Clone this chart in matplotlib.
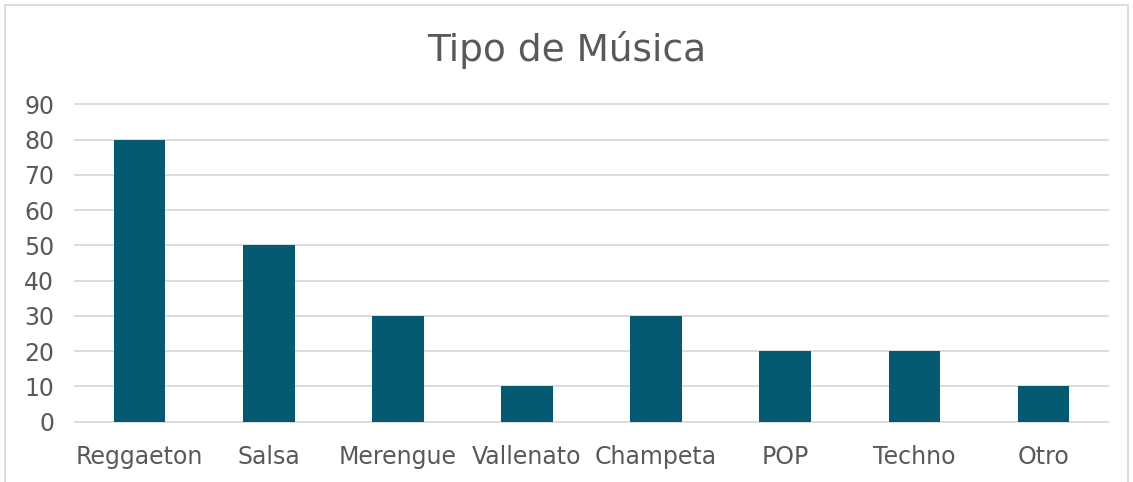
import matplotlib.pyplot as plt
from matplotlib.patches import Rectangle

categories = ['Reggaeton', 'Salsa', 'Merengue', 'Vallenato', 'Champeta', 'POP', 'Techno', 'Otro']
values = [80, 50, 30, 10, 30, 20, 20, 10]
yticks = [0, 10, 20, 30, 40, 50, 60, 70, 80, 90]

text_color = '#595959'
bar_color = '#045A71'

fig = plt.figure(figsize=(11.33, 4.82), dpi=100)
ax = fig.add_axes([0.0662, 0.125, 0.9118, 0.6586])

x = range(len(categories))
ax.bar(x, values, width=0.4, color=bar_color, zorder=3)

ax.set_xlim(-0.5, len(categories) - 0.5)
ax.set_ylim(0, 90)
ax.set_yticks(yticks)
ax.set_xticks(list(x))
ax.set_xticklabels(categories)
ax.yaxis.grid(True, color='#D9D9D9', linewidth=1.3, zorder=0)
for line in ax.get_ygridlines():
    line.set_clip_on(False)
for s in ax.spines.values():
    s.set_visible(False)
ax.tick_params(axis='both', length=0, labelsize=17, labelcolor=text_color)
ax.tick_params(axis='y', pad=15)
ax.tick_params(axis='x', pad=17)

fig.text(0.5, 0.897, 'Tipo de Música', fontsize=27, color=text_color,
         ha='center', va='center')

# light border around the chart area
fig.patches.append(Rectangle((0.004, -0.01), 0.992, 1.0, transform=fig.transFigure,
                             fill=False, edgecolor='#D9D9D9', linewidth=1.3))

fig.savefig('out.png', dpi=100)
